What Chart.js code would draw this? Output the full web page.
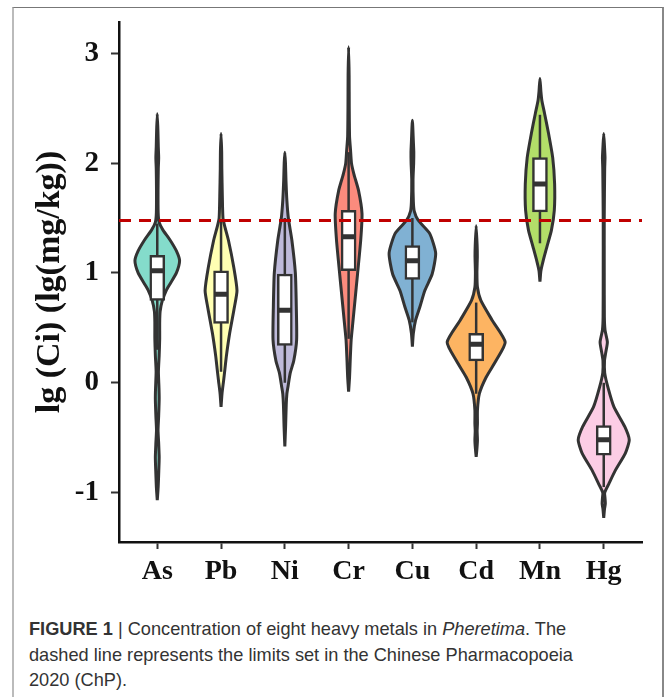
<!DOCTYPE html>
<html>
<head>
<meta charset="utf-8">
<script src="https://cdn.jsdelivr.net/npm/chart.js@4.4.1/dist/chart.umd.min.js"></script>
<style>
  html, body { margin: 0; padding: 0; background: #fff; }
  #frame {
    position: absolute; left: 12px; top: 7px; width: 648px; height: 700px;
    border-top: 1px solid #777; border-right: 2px solid #888; border-left: 2px solid #bbb;
  }
  #violin-canvas { position: absolute; left: 0; top: 0; }
  #caption {
    position: absolute; left: 29px; top: 617px;
    font-family: "Liberation Sans", Arial, sans-serif; font-size: 18.2px;
    line-height: 25.5px; color: #333; white-space: nowrap;
  }
</style>
</head>
<body>
<div id="frame"></div>
<canvas id="violin-canvas" width="665" height="600"></canvas>
<div id="caption"><b>FIGURE 1</b> | Concentration of eight heavy metals in <i>Pheretima</i>. The<br>dashed line represents the limits set in the Chinese Pharmacopoeia<br>2020 (ChP).</div>
<script>
const metals = ['As', 'Pb', 'Ni', 'Cr', 'Cu', 'Cd', 'Mn', 'Hg'];
const fillColors = ['#84DCCB', '#FFFFB3', '#BEBADA', '#FB8B7D', '#80B1D3', '#FDB462', '#B3DE69', '#FCCDE5'];

// box plot stats, lg(mg/kg)
const q1 = [0.75, 0.54, 0.34, 1.02, 0.94, 0.20, 1.555, -0.66];
const median = [1.02, 0.805, 0.66, 1.33, 1.11, 0.35, 1.81, -0.52];
const q3 = [1.16, 1.02, 0.99, 1.57, 1.25, 0.45, 2.05, -0.39];
const whiskerLow = [0.3, 0.1, 0.0, 0.4, 0.55, -0.1, 1.27, -0.95];
const whiskerHigh = [1.45, 1.47, 1.5, 2.1, 1.5, 0.73, 2.44, 0.0];

// ChP limit (dashed line)
const limit = 1.477;

// violin outlines: levels (lg value) and half widths (in category units)
const asY = [-1.07, -0.95, -0.8, -0.68, -0.55, -0.43, -0.3, -0.15, -0.05, 0.1, 0.25, 0.4, 0.55, 0.65, 0.75, 0.84, 0.9, 1.0, 1.11, 1.2, 1.3, 1.39, 1.46, 1.55, 1.75, 1.95, 2.05, 2.15, 2.3, 2.45];
const asW = [0, 0.014, 0.024, 0.03, 0.022, 0.012, 0.022, 0.03, 0.027, 0.018, 0.03, 0.038, 0.038, 0.045, 0.08, 0.14, 0.2, 0.3, 0.35, 0.3, 0.2, 0.09, 0.03, 0.014, 0.012, 0.016, 0.022, 0.016, 0.01, 0];
const pbY = [-0.22, -0.1, 0.02, 0.12, 0.24, 0.45, 0.69, 0.84, 1.05, 1.3, 1.42, 1.5, 1.7, 1.95, 2.1, 2.27];
const pbW = [0, 0.015, 0.04, 0.06, 0.083, 0.135, 0.21, 0.25, 0.2, 0.115, 0.06, 0.03, 0.02, 0.012, 0.01, 0];
const niY = [-0.58, -0.4, -0.2, -0.1, -0.04, 0.09, 0.2, 0.39, 0.69, 1.0, 1.3, 1.5, 1.66, 1.84, 2.0, 2.1];
const niW = [0, 0.012, 0.022, 0.032, 0.048, 0.085, 0.14, 0.185, 0.18, 0.165, 0.11, 0.055, 0.032, 0.018, 0.01, 0];
const crY = [-0.08, 0.05, 0.2, 0.39, 0.54, 0.75, 0.99, 1.3, 1.54, 1.75, 1.9, 2.0, 2.12, 2.24, 2.5, 2.8, 3.06];
const crW = [0, 0.015, 0.025, 0.04, 0.065, 0.1, 0.14, 0.19, 0.21, 0.156, 0.083, 0.045, 0.03, 0.015, 0.01, 0.008, 0];
const cuY = [0.33, 0.45, 0.57, 0.69, 0.84, 0.99, 1.18, 1.36, 1.48, 1.56, 1.65, 1.85, 2.0, 2.1, 2.2, 2.39];
const cuW = [0, 0.015, 0.05, 0.117, 0.195, 0.31, 0.365, 0.27, 0.09, 0.03, 0.015, 0.01, 0.02, 0.022, 0.015, 0];
const cdY = [-0.675, -0.6, -0.52, -0.44, -0.37, -0.25, -0.1, 0.05, 0.2, 0.37, 0.57, 0.75, 0.87, 1.0, 1.15, 1.25, 1.43];
const cdW = [0, 0.012, 0.02, 0.015, 0.02, 0.02, 0.05, 0.156, 0.31, 0.455, 0.25, 0.073, 0.02, 0.012, 0.018, 0.015, 0];
const mnY = [0.92, 1.02, 1.11, 1.24, 1.39, 1.57, 1.81, 2.05, 2.27, 2.45, 2.57, 2.65, 2.77];
const mnW = [0, 0.015, 0.05, 0.11, 0.18, 0.225, 0.23, 0.2, 0.135, 0.073, 0.03, 0.015, 0];
const hgY = [-1.23, -1.15, -1.1, -1.05, -1.0, -0.92, -0.8, -0.64, -0.52, -0.4, -0.22, -0.04, 0.09, 0.2, 0.27, 0.37, 0.48, 0.6, 1.0, 1.5, 1.95, 2.05, 2.15, 2.27];
const hgW = [0, 0.012, 0.025, 0.02, 0.015, 0.08, 0.18, 0.34, 0.4, 0.33, 0.16, 0.065, 0.015, 0.012, 0.03, 0.057, 0.02, 0.01, 0.008, 0.008, 0.015, 0.02, 0.012, 0];

const violinY = [asY, pbY, niY, crY, cuY, cdY, mnY, hgY];
const violinW = [asW, pbW, niW, crW, cuW, cdW, mnW, hgW];

const xMin = 0.4;
const xMax = 8.6;
const INK = '#333333';

// closed outline: up the left side, down the right side
function violinOutline(center, levels, widths) {
  const pts = [];
  for (let k = 0; k < levels.length; k++) {
    pts.push({ x: center - widths[k], y: levels[k] });
  }
  for (let k = levels.length - 2; k >= 0; k--) {
    pts.push({ x: center + widths[k], y: levels[k] });
  }
  return pts;
}

const datasets = [];

metals.forEach((metal, i) => {
  datasets.push({
    type: 'scatter',
    label: metal,
    data: violinOutline(i + 1, violinY[i], violinW[i]),
    showLine: true,
    fill: 'shape',
    backgroundColor: fillColors[i],
    borderColor: INK,
    borderWidth: 3,
    borderJoinStyle: 'round',
    tension: 0.2,
    order: 4,
  });
  datasets.push({
    type: 'scatter',
    label: metal + ' whisker',
    data: [{ x: i + 1, y: whiskerLow[i] }, { x: i + 1, y: whiskerHigh[i] }],
    showLine: true,
    borderColor: INK,
    borderWidth: 2.5,
    order: 3,
  });
});

datasets.push({
  type: 'bar',
  label: 'IQR',
  data: metals.map((m, i) => ({ x: i + 1, y: [q1[i], q3[i]] })),
  backgroundColor: '#ffffff',
  borderColor: INK,
  borderWidth: 2.5,
  borderSkipped: false,
  barThickness: 15,
  order: 2,
});

const medianPts = [];
metals.forEach((m, i) => {
  medianPts.push({ x: i + 1 - 0.105, y: median[i] });
  medianPts.push({ x: i + 1 + 0.105, y: median[i] });
  medianPts.push({ x: i + 1, y: null });
});
datasets.push({
  type: 'scatter',
  label: 'median',
  data: medianPts,
  showLine: true,
  spanGaps: false,
  borderColor: INK,
  borderWidth: 5,
  order: 1,
});

datasets.push({
  type: 'scatter',
  label: 'ChP limit',
  data: [{ x: xMin, y: limit }, { x: xMax, y: limit }],
  showLine: true,
  borderColor: '#C00000',
  borderWidth: 3,
  borderDash: [12, 8],
  order: 0,
});

const canvas = document.getElementById('violin-canvas');
const chart = new Chart(canvas, {
  type: 'scatter',
  data: { datasets },
  options: {
    responsive: false,
    animation: false,
    layout: { padding: { left: 30, top: 22, right: 23, bottom: 0 } },
    elements: { point: { radius: 0, hoverRadius: 0 } },
    plugins: { legend: { display: false }, tooltip: { enabled: false } },
    scales: {
      x: {
        type: 'linear',
        min: xMin,
        max: xMax,
        offset: false,
        afterBuildTicks: (scale) => {
          scale.ticks = metals.map((m, i) => ({ value: i + 1 }));
        },
        afterFit: (scale) => {
          scale.height = 58;
          scale.paddingLeft = 0;
          scale.paddingRight = 0;
        },
        ticks: {
          callback: (value) => metals[value - 1],
          color: '#111',
          padding: 6,
          maxRotation: 0,
          autoSkip: false,
          font: { family: '"Liberation Serif", "Times New Roman", serif', size: 28, weight: 'bold' },
        },
        grid: { drawOnChartArea: false, offset: false, tickLength: 7, color: INK, tickWidth: 2 },
        border: { display: true, color: '#111', width: 2.5 },
      },
      y: {
        type: 'linear',
        min: -1.45,
        max: 3.285,
        beginAtZero: false,
        afterBuildTicks: (scale) => {
          scale.ticks = [-1, 0, 1, 2, 3].map((v) => ({ value: v }));
        },
        afterFit: (scale) => {
          scale.width = 89;
          scale.paddingTop = 0;
          scale.paddingBottom = 0;
        },
        ticks: {
          color: '#111',
          padding: 12,
          font: { family: '"Liberation Serif", "Times New Roman", serif', size: 29, weight: 'bold' },
        },
        grid: { drawOnChartArea: false, tickLength: 8, color: INK, tickWidth: 2 },
        border: { display: true, color: '#111', width: 2.5 },
        title: {
          display: true,
          text: 'lg (Ci) (lg(mg/kg))',
          color: '#111',
          padding: { top: 0, bottom: 0 },
          font: { family: '"Liberation Serif", "Times New Roman", serif', size: 34, weight: 'bold' },
        },
      },
    },
  },
});
</script>
</body>
</html>
